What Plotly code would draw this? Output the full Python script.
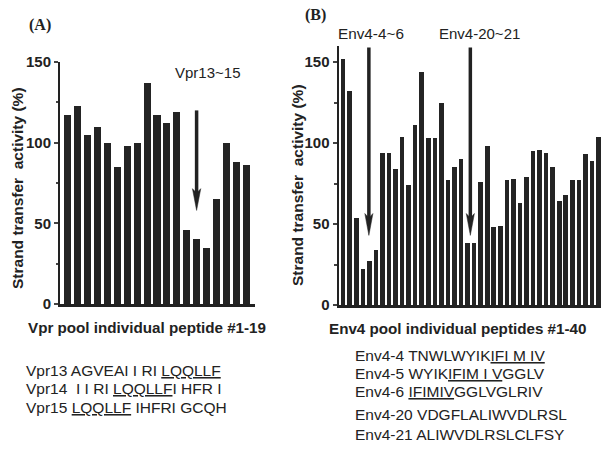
import plotly.graph_objects as go

W, H = 601, 450

vpr_values = [117, 123, 105, 110, 100, 85, 98, 100, 137, 117, 112, 119,
              46, 40, 35, 65, 100, 88, 86]
env_values = [152, 132, 54, 22, 27, 34, 94, 94, 84, 104, 74, 111, 144, 103, 103, 125,
              77, 85, 90, 38, 38, 76, 98, 48, 49, 77, 78, 63, 79, 95, 96, 94, 85,
              64, 68, 77, 77, 93, 89, 104]
y_ticks = [0, 50, 100, 150]
# arrows: (position in bar units, top value, tip value)
vpr_arrow_x, vpr_arrow_top, vpr_arrow_tip = [14], [120], [58]
env_arrow_x, env_arrow_top, env_arrow_tip = [5, 20.5], [159, 159], [43, 43]
vpr_seq = ["Vpr13 AGVEAI I RI <u>LQQLLF</u>",
           "Vpr14  I I RI <u>LQQLLF</u>I HFR I",
           "Vpr15 <u>LQQLLF</u> IHFRI GCQH"]
env_seq = ["Env4-4 TNWLWYIK<u>IFI M IV</u>",
           "Env4-5 WYIK<u>IFIM I V</u>GGLV",
           "Env4-6 <u>IFIMIV</u>GGLVGLRIV"]
env_seq2 = ["Env4-20 VDGFLALIWVDLRSL",
            "Env4-21 ALIWVDLRSLCLFSY"]

BAR = "#242424"
INK = "#222"
SANS = "Liberation Sans, Arial, sans-serif"
SERIF = "Liberation Serif, Times New Roman, serif"


def px(x):
    return x / W


def py(y):
    return 1 - y / H


fig = go.Figure()
fig.add_trace(go.Bar(x=list(range(1, len(vpr_values) + 1)), y=vpr_values,
                     marker=dict(color=BAR, line=dict(width=0)), width=0.72,
                     xaxis="x", yaxis="y"))
fig.add_trace(go.Bar(x=list(range(1, len(env_values) + 1)), y=env_values,
                     marker=dict(color=BAR, line=dict(width=0)), width=0.7,
                     xaxis="x2", yaxis="y2"))

yax = dict(tickvals=y_ticks, ticks="outside", ticklen=4, tickwidth=2,
           showline=True, linewidth=2, linecolor=INK, showgrid=False, zeroline=False,
           tickfont=dict(family=SANS, size=15, color=INK, weight="bold"),
           minor=dict(ticks="outside", ticklen=2.5, tickwidth=1.5, dtick=25, tick0=0, showgrid=False))
xax = dict(showline=True, linewidth=2.5, linecolor=INK, showgrid=False, zeroline=False,
           showticklabels=False, ticks="")

fig.update_layout(
    width=W, height=H, margin=dict(l=0, r=0, t=0, b=0, autoexpand=False),
    paper_bgcolor="white", plot_bgcolor="white", showlegend=False, bargap=0,
    xaxis=dict(xax, domain=[px(60), px(255)], range=[0.2, 19.9]),
    yaxis=dict(yax, domain=[py(304), py(62)], range=[0, 150]),
    xaxis2=dict(xax, domain=[px(338.5), 1.0], range=[0.36, 40.46], anchor="y2"),
    yaxis2=dict(yax, domain=[py(305), py(46)], range=[0, 160], anchor="x2"),
)

ann = []


def label(text, x, y, size, family=SANS, xanchor="center", angle=0):
    ann.append(dict(text=text, x=px(x), y=py(y), xref="paper", yref="paper",
                    xanchor=xanchor, yanchor="middle", showarrow=False, textangle=angle,
                    font=dict(family=family, size=size, color=INK)))


label("<b>(A)</b>", 40, 25, 16, SERIF)
label("<b>(B)</b>", 315, 15, 16, SERIF)
label("<b>Strand transfer  activity (%)</b>", 17, 188, 15.5, angle=-90)
label("<b>Strand transfer  activity (%)</b>", 297, 185, 15.5, angle=-90)
label("<b>Vpr pool individual peptide #1-19</b>", 147, 327, 15.2)
label("<b>Env4 pool individual peptides #1-40</b>", 457, 328, 15.2)
label("Vpr13~15", 207, 72, 15)
label("Env4-4~6", 371, 33, 15.3)
label("Env4-20~21", 479, 33, 15)
for i, s in enumerate(vpr_seq):
    label(s, 24, 370 + 18.5 * i, 15.5, xanchor="left")
for i, s in enumerate(env_seq):
    label(s, 353, 355 + 18 * i, 15.5, xanchor="left")
for i, s in enumerate(env_seq2):
    label(s, 353, 414 + 20 * i, 15.5, xanchor="left")

# arrows drawn as shaft + narrow head
shapes = []


def arrows(xs, tops, tips, xref, yref, hw, hl):
    for x, t, b in zip(xs, tops, tips):
        shapes.append(dict(type="line", xref=xref, yref=yref, x0=x, x1=x, y0=t, y1=b + hl * 0.7,
                           line=dict(color=INK, width=3.5)))
        shapes.append(dict(type="path", xref=xref, yref=yref,
                           path=f"M{x - hw},{b + hl} L{x},{b + hl * 0.8} L{x + hw},{b + hl} L{x},{b} Z",
                           fillcolor=INK, line=dict(color=INK, width=0.5)))


arrows(vpr_arrow_x, vpr_arrow_top, vpr_arrow_tip, "x", "y", 0.42, 13.5)
arrows(env_arrow_x, env_arrow_top, env_arrow_tip, "x2", "y2", 0.62, 13.5)

fig.update_layout(annotations=ann, shapes=shapes)

fig.write_html("out.html", config={"displayModeBar": False},
               post_script="document.body.style.margin='0';document.body.style.overflow='hidden';")
